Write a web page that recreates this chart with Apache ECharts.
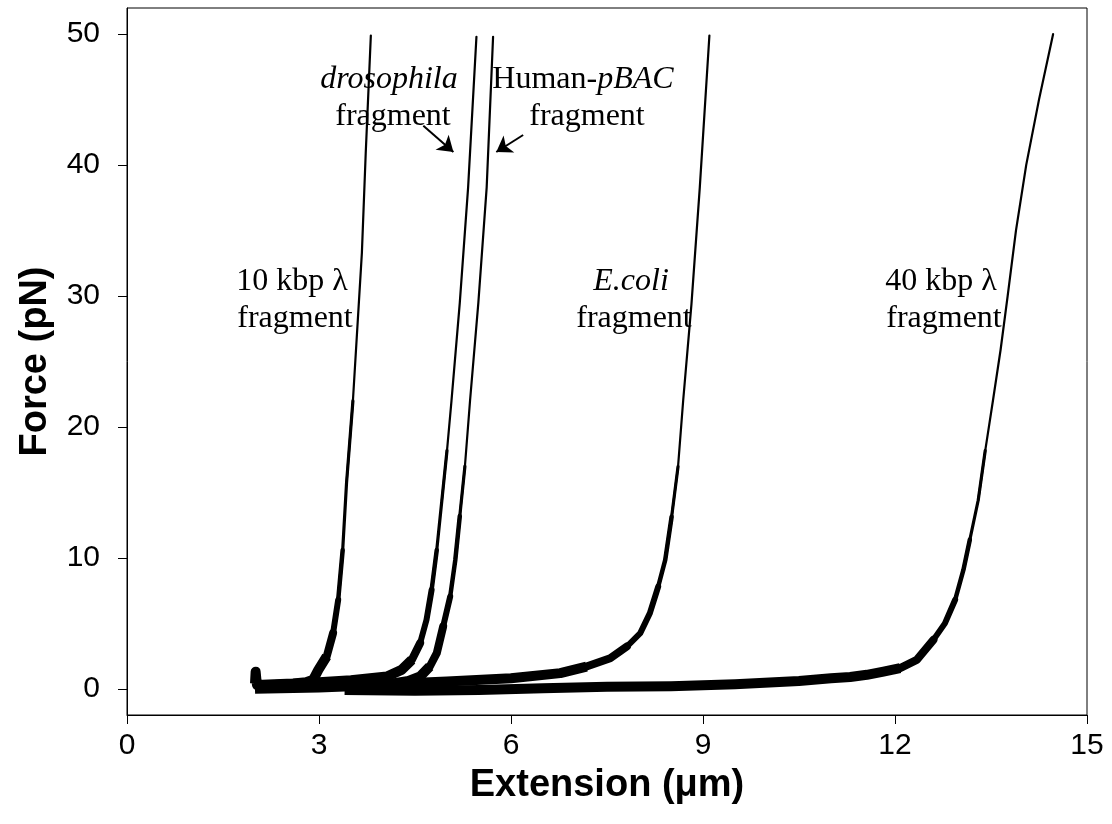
<!DOCTYPE html>
<html><head><meta charset="utf-8">
<script src="https://cdn.jsdelivr.net/npm/echarts@6/dist/echarts.min.js"></script>
<style>html,body{margin:0;padding:0;background:#fff}#c{width:1112px;height:824px}</style>
</head><body><div id="c"></div>
<script>
// ---- data (extension µm, force pN) ----
const xTicks = [0, 3, 6, 9, 12, 15];
const yTicks = [0, 10, 20, 30, 40, 50];
const curve10kbp = [[2.0,0.4],[2.01,1.3],[2.03,0.3],[2.3,0.35],[2.6,0.4],[2.8,0.5],[2.91,0.7],[2.99,1.45],[3.12,2.47],[3.22,4.25],[3.30,6.8],[3.37,10.6],[3.43,15.7],[3.53,22.0],[3.67,33.3],[3.73,40.9],[3.81,49.9]];
const curveDrosophila = [[2.0,0.2],[2.5,0.35],[3.0,0.5],[3.5,0.65],[4.06,0.94],[4.29,1.45],[4.45,2.21],[4.58,3.49],[4.68,5.27],[4.76,7.56],[4.84,10.6],[4.92,14.4],[5.0,18.2],[5.07,22.0],[5.20,29.5],[5.33,38.3],[5.46,49.8]];
const curveHumanPBAC = [[2.0,0.0],[3.0,0.1],[4.0,0.3],[4.4,0.6],[4.58,0.94],[4.73,1.70],[4.84,2.72],[4.94,4.76],[5.05,7.05],[5.13,9.85],[5.20,13.2],[5.28,17.0],[5.36,22.0],[5.49,29.5],[5.62,38.3],[5.72,49.8]];
const curveEcoli = [[2.0,0.2],[3.0,0.25],[4.0,0.35],[5.0,0.55],[6.0,0.8],[6.77,1.2],[7.18,1.7],[7.55,2.34],[7.81,3.23],[8.02,4.25],[8.17,5.78],[8.30,7.81],[8.41,9.85],[8.51,13.15],[8.61,16.97],[8.69,22.0],[8.82,29.4],[8.95,38.3],[9.10,49.9]];
const curve40kbp = [[3.4,-0.1],[4.5,-0.15],[5.5,-0.1],[6.5,0.05],[7.5,0.15],[8.5,0.2],[9.5,0.35],[10.5,0.6],[11.0,0.8],[11.3,0.9],[11.56,1.07],[11.82,1.32],[12.08,1.58],[12.34,2.21],[12.60,3.74],[12.78,5.0],[12.94,6.8],[13.07,9.1],[13.17,11.4],[13.30,14.4],[13.41,18.2],[13.53,22.0],[13.65,25.9],[13.76,30.0],[13.89,35.0],[14.05,40.0],[14.25,45.0],[14.47,50.0]];
const curves = [curve10kbp, curveDrosophila, curveHumanPBAC, curveEcoli, curve40kbp];
// annotation arrows (data coords): [from, to]
const arrowDrosophila = [[4.63,43.0],[5.10,41.0]];
const arrowHuman = [[6.19,42.3],[5.77,41.0]];

// noise band: thicker stroke at low force
const bands = [{max:1.5,w:10},{max:3,w:8},{max:6,w:6},{max:10,w:4.5},{max:16,w:3.2},{max:Infinity,w:2.2}];
function segs(pts){
  const res=[]; let cur=null;
  for(let i=0;i<pts.length-1;i++){
    const y=Math.min(pts[i][1],pts[i+1][1]);
    const b=bands.findIndex(bd=>y<=bd.max);
    if(!cur||cur.b!==b){
      cur={b,data:i>0?[pts[i-1],pts[i]]:[pts[i]]};res.push(cur);
    }
    cur.data.push(pts[i+1]);
  }
  return res;
}
const series=[];
curves.forEach((c,ci)=>{
  segs(c).forEach((s,si)=>{
    series.push({type:'line',data:s.data,showSymbol:false,symbol:'none',silent:true,
      lineStyle:{color:'#000',width:bands[s.b].w,cap:si===0?'butt':'round',join:'round'},z:3});
  });
});
series.push({type:'line',data:[[0,-5]],silent:true,symbol:'none',showSymbol:false,lineStyle:{width:0},
  itemStyle:{color:'#000'},
  markLine:{silent:true,symbol:['none','arrow'],symbolSize:15,label:{show:false},
    itemStyle:{color:'#000'},
    lineStyle:{color:'#000',width:2,type:'solid'},
    data:[[{coord:arrowDrosophila[0]},{coord:arrowDrosophila[1]}],[{coord:arrowHuman[0]},{coord:arrowHuman[1]}]]}});

const SERIF='"Liberation Serif", "Times New Roman", serif';
const FS=32;
function txt(x,y,text,rich){
  return {type:'text',x:x,y:y,silent:true,z:10,style:{text:text,font:FS+'px '+SERIF,fill:'#000',
    align:'center',verticalAlign:'middle',textAlign:'center',textVerticalAlign:'middle',rich:rich}};
}
const rich={n:{font:FS+'px '+SERIF,fill:'#000'},i:{font:'italic '+FS+'px '+SERIF,fill:'#000'}};
const chart=echarts.init(document.getElementById('c'),null,{renderer:'canvas'});
chart.setOption({
  animation:false,
  backgroundColor:'#fff',
  grid:{left:127,right:25,top:8,bottom:109,show:true,borderColor:'#000',borderWidth:1},
  xAxis:{type:'value',min:0,max:15,interval:3,
    axisLine:{show:true,onZero:false,lineStyle:{color:'#000',width:1}},
    axisTick:{show:true,inside:false,length:9,lineStyle:{color:'#000'}},
    splitLine:{show:false},
    axisLabel:{color:'#000',fontSize:30,fontFamily:'"Liberation Sans", Arial, sans-serif',margin:16,customValues:xTicks},
    name:'Extension (\u03bcm)',nameLocation:'middle',nameGap:52,
    nameTextStyle:{color:'#000',fontSize:38,fontWeight:'bold',fontFamily:'"Liberation Sans", Arial, sans-serif'}},
  yAxis:{type:'value',min:-2,max:52,
    axisLine:{show:true,onZero:false,lineStyle:{color:'#000',width:1}},
    axisTick:{show:true,inside:false,length:9,lineStyle:{color:'#000'},customValues:yTicks},
    splitLine:{show:false},
    axisLabel:{color:'#000',fontSize:30,fontFamily:'"Liberation Sans", Arial, sans-serif',margin:27,customValues:yTicks},
    name:'Force (pN)',nameLocation:'middle',nameGap:72,nameRotate:90,
    nameTextStyle:{color:'#000',fontSize:38,fontWeight:'bold',fontFamily:'"Liberation Sans", Arial, sans-serif'}},
  series:series,
  graphic:{elements:[
    txt(389,80,'{i|drosophila}',rich),
    txt(393,117,'fragment'),
    txt(583,80,'{n|Human-}{i|pBAC}',rich),
    txt(587,117,'fragment'),
    txt(292,282,'10 kbp \u03bb'),
    txt(295,319,'fragment'),
    txt(631,282,'{i|E.coli}',rich),
    txt(634,319,'fragment'),
    txt(941,282,'40 kbp \u03bb'),
    txt(944,319,'fragment')
  ]}
});
</script></body></html>
